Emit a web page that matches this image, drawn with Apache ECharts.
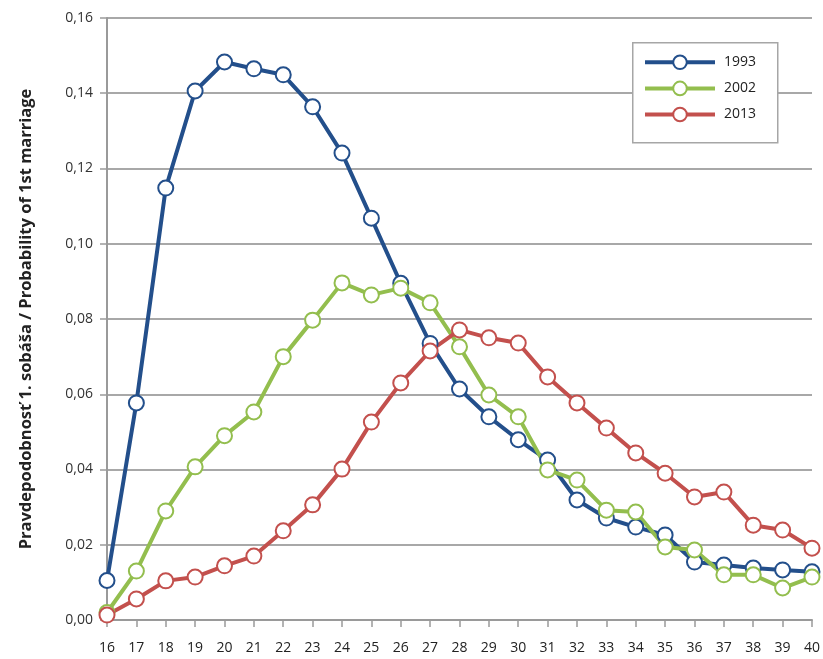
<!DOCTYPE html>
<html><head><meta charset="utf-8">
<script src="https://cdn.jsdelivr.net/npm/echarts@6/dist/echarts.min.js"></script>
<style>html,body{margin:0;padding:0;background:#fff}#c{width:823px;height:659px}</style>
</head><body><div id="c"></div>
<script>
const ages = ['16','17','18','19','20','21','22','23','24','25','26','27','28','29','30','31','32','33','34','35','36','37','38','39','40'];
const s1993 = [0.0105,0.0577,0.1148,0.1406,0.1483,0.1465,0.1449,0.1364,0.1241,0.1068,0.0895,0.0735,0.0614,0.0540,0.0479,0.0425,0.0319,0.0271,0.0247,0.0226,0.0154,0.0146,0.0138,0.0133,0.0128];
const s2002 = [0.0020,0.0130,0.0290,0.0407,0.0490,0.0553,0.0700,0.0797,0.0896,0.0864,0.0882,0.0843,0.0726,0.0598,0.0540,0.0399,0.0372,0.0292,0.0287,0.0194,0.0186,0.0120,0.0120,0.0085,0.0114];
const s2013 = [0.0013,0.0056,0.0104,0.0114,0.0144,0.0170,0.0237,0.0306,0.0401,0.0526,0.0630,0.0715,0.0771,0.0750,0.0736,0.0646,0.0577,0.0510,0.0444,0.0390,0.0327,0.0340,0.0252,0.0239,0.0191];
const seriesNames = ['1993','2002','2013'];
const colors = ['#234F8B','#93BE4E','#C3504D'];
const yTitle = 'Pravdepodobnosť 1. sobáša / Probability of 1st marriage';

const chart = echarts.init(document.getElementById('c'));
const mk = (name, data, color) => ({
  name, type: 'line', data,
  symbol: 'circle', symbolSize: 15,
  lineStyle: {color, width: 4},
  itemStyle: {color: '#fff', borderColor: color, borderWidth: 2},
  emphasis: {disabled: true},
  animation: false
});
chart.setOption({
  animation: false,
  grid: {left: 107, right: 11, top: 18, bottom: 39},
  graphic: [{
    type: 'rect', left: 632, top: 42, z: 5,
    shape: {width: 145, height: 100},
    style: {fill: '#fff', stroke: '#A6A6A6', lineWidth: 1.5}
  }],
  legend: {
    data: seriesNames,
    orient: 'vertical',
    left: 643, top: 54.5,
    padding: 0,
    itemGap: 10.5,
    itemWidth: 70, itemHeight: 17,
    z: 10,
    lineStyle: {width: 4},
    textStyle: {fontFamily: 'Open Sans', fontSize: 14, color: '#222', padding: [0,0,0,4]}
  },
  xAxis: {
    type: 'category', data: ages, boundaryGap: false,
    axisLine: {lineStyle: {color: '#9A9A9A', width: 2}},
    axisTick: {show: true, length: 7, lineStyle: {color: '#9A9A9A', width: 1.5}, alignWithLabel: true},
    axisLabel: {fontFamily: 'Open Sans', fontSize: 14, color: '#222', margin: 21, interval: 0},
    splitLine: {show: false}
  },
  yAxis: {
    type: 'value', min: 0, max: 0.16, interval: 0.02,
    name: yTitle, nameLocation: 'middle', nameGap: 72, nameRotate: 90,
    nameTextStyle: {fontFamily: 'Open Sans', fontSize: 16.5, fontWeight: 'bold', color: '#222'},
    axisLine: {show: true, lineStyle: {color: '#9A9A9A', width: 2}},
    axisTick: {show: true, length: 7, lineStyle: {color: '#9A9A9A', width: 1.5}},
    axisLabel: {fontFamily: 'Open Sans', fontSize: 14, color: '#333', margin: 14,
      formatter: v => v.toFixed(2).replace('.', ',')},
    splitLine: {lineStyle: {color: '#A8A8A8', width: 2}}
  },
  series: [mk(seriesNames[0], s1993, colors[0]), mk(seriesNames[1], s2002, colors[1]), mk(seriesNames[2], s2013, colors[2])]
});
</script></body></html>
